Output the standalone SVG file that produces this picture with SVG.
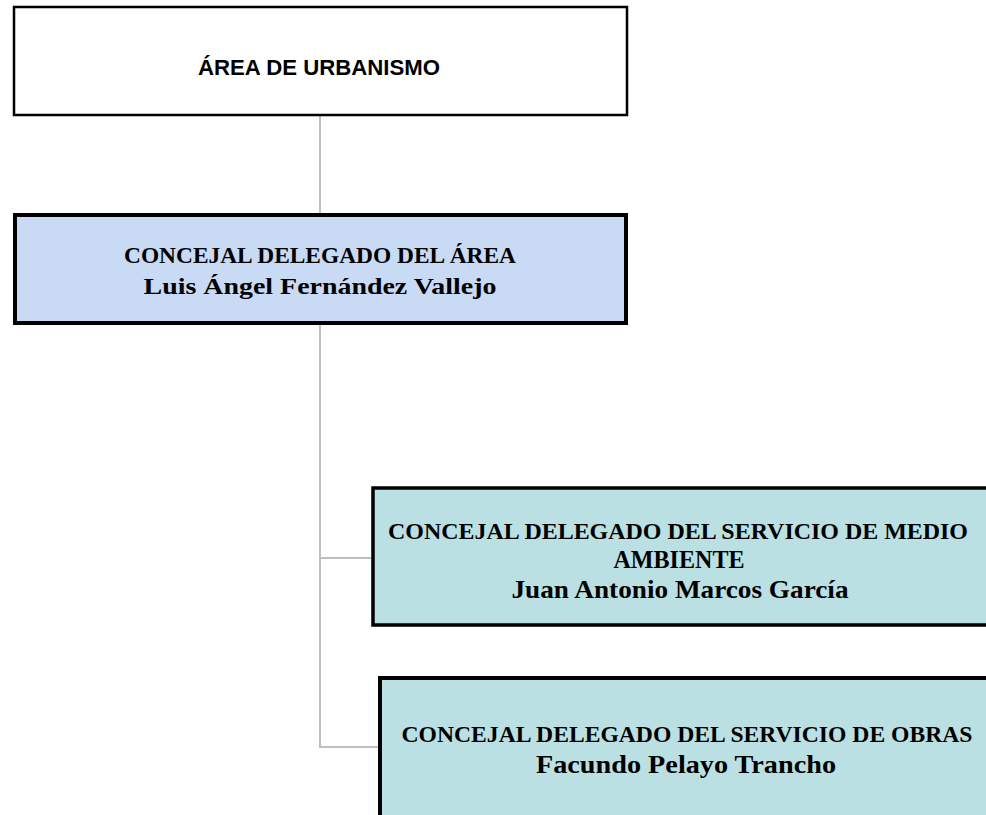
<svg xmlns="http://www.w3.org/2000/svg" width="986" height="815" viewBox="0 0 986 815">
<style>
.conn{stroke:#bfbfbf;stroke-width:2;fill:none}
.sans{font-family:"Liberation Sans",Arial,sans-serif;font-weight:bold;fill:#000}
.serif{font-family:"Liberation Serif","Times New Roman",serif;font-weight:bold;fill:#000}
</style>
<rect width="986" height="815" fill="#fff"/>
<g id="connectors">
<line class="conn" x1="320" y1="116" x2="320" y2="214"/>
<polyline class="conn" points="320,324 320,747 380,747"/>
<line class="conn" x1="320" y1="558" x2="373" y2="558"/>
</g>
<g id="area">
<rect x="14" y="7" width="613" height="108" fill="#fff" stroke="#000" stroke-width="2.5"/>
<text class="sans" x="319" y="75" font-size="22" text-anchor="middle" textLength="242" lengthAdjust="spacingAndGlyphs">ÁREA DE URBANISMO</text>
</g>
<g id="concejal-area">
<rect x="15" y="215" width="611" height="108" fill="#c9daf5" stroke="#000" stroke-width="4"/>
<text class="serif" x="320" y="263" font-size="24" text-anchor="middle" textLength="392" lengthAdjust="spacingAndGlyphs">CONCEJAL DELEGADO DEL ÁREA</text>
<text class="serif" x="320" y="294" font-size="24" text-anchor="middle" textLength="353" lengthAdjust="spacingAndGlyphs">Luis Ángel Fernández Vallejo</text>
</g>
<g id="medio-ambiente">
<rect x="373" y="488" width="620" height="137" fill="#bbe0e3" stroke="#000" stroke-width="3.5"/>
<text class="serif" x="678" y="539" font-size="23.5" text-anchor="middle" textLength="580" lengthAdjust="spacingAndGlyphs">CONCEJAL DELEGADO DEL SERVICIO DE  MEDIO</text>
<text class="serif" x="679" y="568" font-size="25" text-anchor="middle" textLength="131" lengthAdjust="spacingAndGlyphs">AMBIENTE</text>
<text class="serif" x="680" y="598" font-size="25" text-anchor="middle" textLength="337" lengthAdjust="spacingAndGlyphs">Juan Antonio Marcos García</text>
</g>
<g id="obras">
<rect x="380" y="678" width="613" height="145" fill="#bbe0e3" stroke="#000" stroke-width="4"/>
<text class="serif" x="687" y="742" font-size="23.5" text-anchor="middle" textLength="571" lengthAdjust="spacingAndGlyphs">CONCEJAL DELEGADO DEL SERVICIO DE OBRAS</text>
<text class="serif" x="686" y="773" font-size="25" text-anchor="middle" textLength="300" lengthAdjust="spacingAndGlyphs">Facundo Pelayo Trancho</text>
</g>
</svg>
